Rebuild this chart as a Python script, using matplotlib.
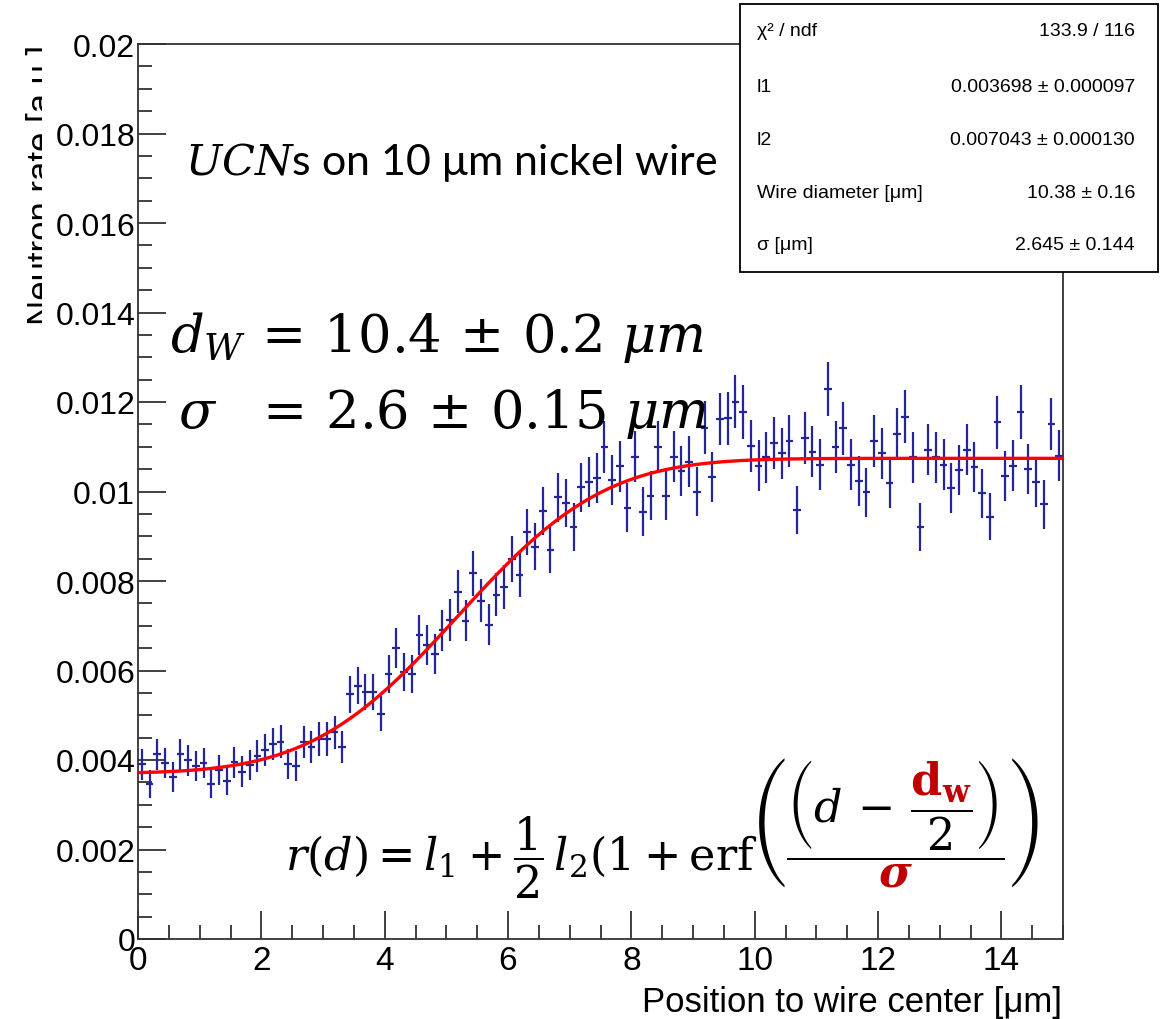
import math
import numpy as np
import matplotlib
matplotlib.use("Agg")
import matplotlib.pyplot as plt
from matplotlib.patches import Rectangle
from matplotlib.transforms import Bbox, IdentityTransform
from matplotlib.mathtext import MathTextParser

plt.rcParams['font.family'] = ['Liberation Sans', 'DejaVu Sans']
plt.rcParams['mathtext.fontset'] = 'stix'

# histogram binning (0..15 um, 120 bins)
n_bins = 120
x_range = (0.0, 15.0)

# measured neutron rate per bin [a.u.] and its error
rate = [
    0.00390, 0.00346, 0.00413, 0.00393, 0.00362, 0.00413, 0.00399, 0.00387, 0.00393, 0.00346,
    0.00378, 0.00354, 0.00395, 0.00374, 0.00389, 0.00409, 0.00422, 0.00436, 0.00441, 0.00391,
    0.00387, 0.00440, 0.00429, 0.00447, 0.00447, 0.00462, 0.00429, 0.00547, 0.00566, 0.00552,
    0.00552, 0.00503, 0.00592, 0.00650, 0.00597, 0.00592, 0.00679, 0.00657, 0.00637, 0.00690,
    0.00713, 0.00776, 0.00711, 0.00817, 0.00756, 0.00702, 0.00769, 0.00787, 0.00849, 0.00814,
    0.00910, 0.00877, 0.00957, 0.00869, 0.00987, 0.00974, 0.00921, 0.01009, 0.01022, 0.01030,
    0.01100, 0.01025, 0.01056, 0.00964, 0.01078, 0.00955, 0.00991, 0.01100, 0.00991, 0.01078,
    0.01045, 0.01067, 0.01000, 0.01143, 0.01033, 0.01162, 0.01164, 0.01201, 0.01178, 0.01102,
    0.01058, 0.01076, 0.01108, 0.01086, 0.01112, 0.00959, 0.01119, 0.01089, 0.01060, 0.01229,
    0.01099, 0.01141, 0.01060, 0.01024, 0.00998, 0.01112, 0.01086, 0.01018, 0.01128, 0.01167,
    0.01076, 0.00921, 0.01093, 0.01076, 0.01060, 0.01008, 0.01048, 0.01093, 0.01054, 0.00996,
    0.00944, 0.01155, 0.01035, 0.01058, 0.01177, 0.01050, 0.01022, 0.00971, 0.01151, 0.01080,
]
rate_err = [
    0.00034, 0.00032, 0.00035, 0.00034, 0.00033, 0.00035, 0.00035, 0.00034, 0.00034, 0.00032,
    0.00034, 0.00033, 0.00035, 0.00034, 0.00034, 0.00035, 0.00036, 0.00036, 0.00037, 0.00034,
    0.00034, 0.00036, 0.00036, 0.00037, 0.00037, 0.00037, 0.00036, 0.00041, 0.00041, 0.00041,
    0.00041, 0.00039, 0.00042, 0.00044, 0.00042, 0.00042, 0.00045, 0.00045, 0.00044, 0.00046,
    0.00046, 0.00048, 0.00046, 0.00050, 0.00048, 0.00046, 0.00048, 0.00049, 0.00051, 0.00050,
    0.00052, 0.00052, 0.00054, 0.00051, 0.00055, 0.00054, 0.00053, 0.00055, 0.00056, 0.00056,
    0.00058, 0.00056, 0.00057, 0.00054, 0.00057, 0.00054, 0.00055, 0.00058, 0.00055, 0.00057,
    0.00056, 0.00057, 0.00055, 0.00059, 0.00056, 0.00059, 0.00059, 0.00060, 0.00060, 0.00058,
    0.00057, 0.00057, 0.00058, 0.00057, 0.00058, 0.00054, 0.00058, 0.00057, 0.00057, 0.00061,
    0.00058, 0.00059, 0.00057, 0.00056, 0.00055, 0.00058, 0.00057, 0.00055, 0.00058, 0.00059,
    0.00057, 0.00053, 0.00057, 0.00057, 0.00057, 0.00055, 0.00056, 0.00057, 0.00056, 0.00055,
    0.00053, 0.00059, 0.00056, 0.00057, 0.00060, 0.00056, 0.00056, 0.00054, 0.00059, 0.00057,
]

# fit results (stats box)
chi2, ndf = 133.9, 116
l1, l1_err = 0.003698, 0.000097
l2, l2_err = 0.007043, 0.000130
d_wire, d_wire_err = 10.38, 0.16
sigma, sigma_err = 2.645, 0.144

x_ticks = [0, 2, 4, 6, 8, 10, 12, 14]
y_ticks = [0, 0.002, 0.004, 0.006, 0.008, 0.010, 0.012, 0.014, 0.016, 0.018, 0.020]
y_tick_labels = ['0', '0.002', '0.004', '0.006', '0.008', '0.01',
                 '0.012', '0.014', '0.016', '0.018', '0.02']

edges = np.linspace(x_range[0], x_range[1], n_bins + 1)
centers = 0.5 * (edges[1:] + edges[:-1])
half_w = 0.5 * (edges[1] - edges[0])

W, H, DPI = 1165, 1020, 100
fig = plt.figure(figsize=(W / DPI, H / DPI), dpi=DPI)

def px(x, y):
    # figure fraction from pixel position (origin top-left)
    return x / W, 1 - y / H

# y-axis title, partly hidden behind the tick label area like in the slide
fig.text(*px(43, 45), 'Neutron rate [a.u.]', rotation=90, ha='center', va='top',
         fontsize=25, zorder=1)
fig.add_artist(Rectangle(px(42, 340), 95 / W, 300 / H, transform=fig.transFigure,
                         facecolor='white', edgecolor='none', zorder=2))

ax = fig.add_axes([138 / W, 80 / H, 925 / W, 895 / H])
ax.set_zorder(3)

# data with bin-width error bars (ROOT style)
ax.errorbar(centers, rate, yerr=rate_err, xerr=half_w, fmt='none',
            ecolor='#25259a', elinewidth=1.6, capsize=0, zorder=3)

# fitted function
d = np.linspace(x_range[0], x_range[1], 101)
fit = [l1 + 0.5 * l2 * (1 + math.erf((v - d_wire / 2) / sigma)) for v in d]
ax.plot(d, fit, color='#ff0000', lw=2.4, zorder=4)

ax.set_xlim(*x_range)
ax.set_ylim(0, 0.02)
ax.set_xticks(x_ticks)
ax.set_xticklabels([str(t) for t in x_ticks])
ax.set_xticks(np.arange(0, 15.01, 0.5), minor=True)
ax.set_yticks(y_ticks)
ax.set_yticklabels(y_tick_labels)
ax.set_yticks(np.arange(0, 0.02001, 0.0005), minor=True)
ax.tick_params(which='both', direction='in', top=False, right=False,
               color='#333333', width=1.3)
ax.tick_params(which='major', length=20)
ax.tick_params(which='minor', length=10)
ax.tick_params(axis='x', labelsize=24, pad=4)
ax.tick_params(axis='y', labelsize=23, pad=2)
for s in ax.spines.values():
    s.set_linewidth(1.3)
    s.set_color('#333333')

fig.text(*px(1062, 1003), 'Position to wire center [μm]', ha='right', va='center',
         fontsize=25)

# slide annotations
mfam = 'dejavuserif'
fig.text(*px(185, 175), r'$UCN$s on 10 μm nickel wire', fontsize=31,
         family=['Lato', 'DejaVu Sans'], va='baseline', math_fontfamily=mfam)
fig.text(*px(170, 352), r'$d_W\,=\,10.4\,\pm\,0.2\ \mu m$', fontsize=38,
         va='baseline', math_fontfamily=mfam)
fig.text(*px(178, 428), r'$\sigma\enspace\;=\,2.6\,\pm\,0.15\ \mu m$', fontsize=38,
         va='baseline', math_fontfamily=mfam)

formula = (r'$r(d) = l_1 + \dfrac{1}{2}\,l_2(1 + \mathrm{erf}'
           r'\left(\dfrac{\left(d\, -\, \dfrac{\mathbf{d_w}}{2}\right)}{\boldsymbol{\sigma}}\right)$')
f_x, f_y, f_size = 285, 870, 32
ftxt = fig.text(*px(f_x, f_y), formula, fontsize=f_size, va='baseline',
                math_fontfamily=mfam, zorder=5)

# bold symbols of the formula in dark red: find their glyphs and repaint them
parsed = MathTextParser('path').parse(formula, dpi=DPI, prop=ftxt.get_fontproperties())
for font, fsize, num, gx, gy in parsed.glyphs:
    if 'Bold' not in font.style_name:
        continue
    font.set_size(fsize, DPI)
    g = font.load_char(num)
    x0 = f_x + gx + g.horiBearingX / 64 - 2
    x1 = x0 + g.width / 64 + 4
    y1 = (H - f_y) + gy + g.horiBearingY / 64 + 2
    y0 = y1 - g.height / 64 - 4
    fig.add_artist(Rectangle((x0, y0), x1 - x0, y1 - y0, transform=IdentityTransform(),
                             facecolor='white', edgecolor='none', zorder=6))
    red = fig.text(*px(f_x, f_y), formula, fontsize=f_size, va='baseline',
                   math_fontfamily=mfam, color='#c00000', zorder=7)
    red.set_clip_box(Bbox.from_extents(x0, y0, x1, y1))
    red.set_clip_on(True)

# stats box
fig.add_artist(Rectangle(px(740, 273), 418 / W, 268 / H, transform=fig.transFigure,
                         facecolor='white', edgecolor='black', lw=1.3, zorder=10))
rows = [
    ('χ² / ndf', f'{chi2:.1f} / {ndf}'),
    ('l1', f'{l1:.6f} ± {l1_err:.6f}'),
    ('l2', f'{l2:.6f} ± {l2_err:.6f}'),
    ('Wire diameter [μm]', f'{d_wire:.2f} ± {d_wire_err:.2f}'),
    ('σ [μm]', f'{sigma:.3f} ± {sigma_err:.3f}'),
]
row_y = [32, 88, 141, 194, 246]
for (lab, val), yy in zip(rows, row_y):
    fig.text(*px(757, yy), lab, ha='left', va='center', fontsize=14, zorder=11)
    fig.text(*px(1135, yy), val, ha='right', va='center', fontsize=14, zorder=11)

fig.savefig('out.png', dpi=DPI)
